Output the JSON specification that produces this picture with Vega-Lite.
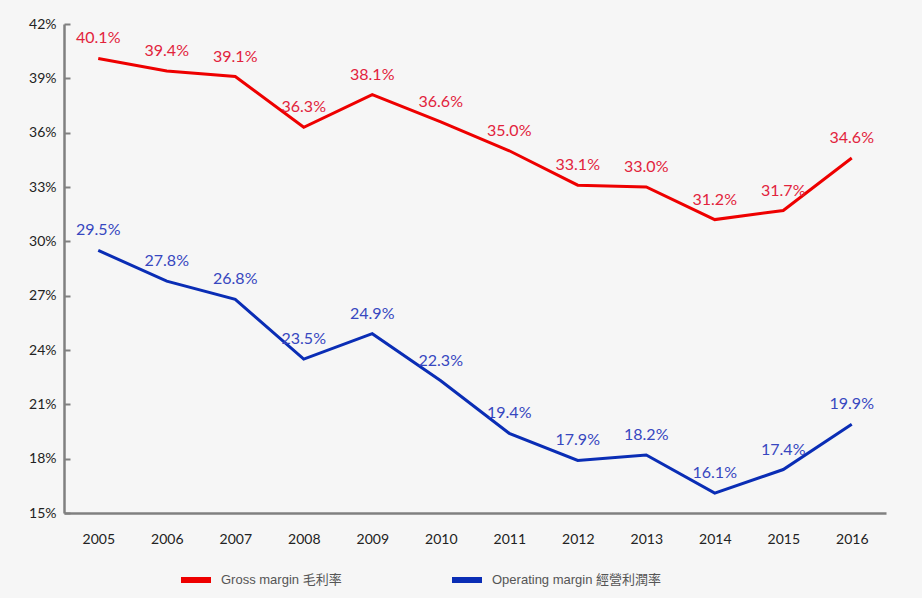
{
  "$schema": "https://vega.github.io/schema/vega-lite/v6.json",
  "width": 822,
  "height": 489,
  "autosize": {"type": "none"},
  "padding": {"left": 64, "top": 24, "right": 36, "bottom": 85},
  "background": "#f6f6f6",
  "config": {
    "view": {"stroke": null},
    "axis": {"grid": false, "labelFont": "Lato", "labelFontSize": 14, "labelColor": "#222222", "domainColor": "#808080", "domainWidth": 2.5, "tickColor": "#808080", "tickWidth": 2, "title": null}
  },
  "data": {
    "values": [
      {"year": "2005", "series": "Gross margin 毛利率", "value": 0.401},
      {"year": "2006", "series": "Gross margin 毛利率", "value": 0.394},
      {"year": "2007", "series": "Gross margin 毛利率", "value": 0.391},
      {"year": "2008", "series": "Gross margin 毛利率", "value": 0.363},
      {"year": "2009", "series": "Gross margin 毛利率", "value": 0.381},
      {"year": "2010", "series": "Gross margin 毛利率", "value": 0.366},
      {"year": "2011", "series": "Gross margin 毛利率", "value": 0.350},
      {"year": "2012", "series": "Gross margin 毛利率", "value": 0.331},
      {"year": "2013", "series": "Gross margin 毛利率", "value": 0.330},
      {"year": "2014", "series": "Gross margin 毛利率", "value": 0.312},
      {"year": "2015", "series": "Gross margin 毛利率", "value": 0.317},
      {"year": "2016", "series": "Gross margin 毛利率", "value": 0.346},
      {"year": "2005", "series": "Operating margin 經營利潤率", "value": 0.295},
      {"year": "2006", "series": "Operating margin 經營利潤率", "value": 0.278},
      {"year": "2007", "series": "Operating margin 經營利潤率", "value": 0.268},
      {"year": "2008", "series": "Operating margin 經營利潤率", "value": 0.235},
      {"year": "2009", "series": "Operating margin 經營利潤率", "value": 0.249},
      {"year": "2010", "series": "Operating margin 經營利潤率", "value": 0.223},
      {"year": "2011", "series": "Operating margin 經營利潤率", "value": 0.194},
      {"year": "2012", "series": "Operating margin 經營利潤率", "value": 0.179},
      {"year": "2013", "series": "Operating margin 經營利潤率", "value": 0.182},
      {"year": "2014", "series": "Operating margin 經營利潤率", "value": 0.161},
      {"year": "2015", "series": "Operating margin 經營利潤率", "value": 0.174},
      {"year": "2016", "series": "Operating margin 經營利潤率", "value": 0.199}
    ]
  },
  "encoding": {
    "x": {
      "field": "year",
      "type": "ordinal",
      "scale": {"type": "point", "padding": 0.5},
      "axis": {"labelAngle": 0, "ticks": false, "labelPadding": 19}
    },
    "y": {
      "field": "value",
      "type": "quantitative",
      "scale": {"domain": [0.15, 0.42], "nice": false, "zero": false},
      "axis": {"values": [0.15, 0.18, 0.21, 0.24, 0.27, 0.30, 0.33, 0.36, 0.39, 0.42], "format": ".0%", "tickSize": -6, "labelPadding": 14}
    }
  },
  "layer": [
    {
      "mark": {"type": "line", "strokeWidth": 3},
      "encoding": {
        "color": {
          "field": "series",
          "type": "nominal",
          "scale": {"domain": ["Gross margin 毛利率", "Operating margin 經營利潤率"], "range": ["#ee0000", "#0a2db5"]},
          "legend": {
            "title": null,
            "orient": "none",
            "legendX": 114,
            "legendY": 538,
            "direction": "horizontal",
            "symbolType": "stroke",
            "symbolSize": 900,
            "symbolStrokeWidth": 6,
            "labelFont": "Liberation Sans, Noto Sans CJK TC",
            "labelFontSize": 13,
            "labelColor": "#555555",
            "labelOffset": 7,
            "columnPadding": 98,
            "labelLimit": 300
          }
        }
      }
    },
    {
      "mark": {"type": "text", "baseline": "middle", "dy": -20, "font": "Lato", "fontSize": 16},
      "encoding": {
        "text": {"field": "value", "type": "quantitative", "format": ".1%"},
        "color": {
          "field": "series",
          "type": "nominal",
          "scale": {"domain": ["Gross margin 毛利率", "Operating margin 經營利潤率"], "range": ["#e2233c", "#3747c0"]},
          "legend": null
        }
      }
    }
  ],
  "resolve": {"scale": {"color": "independent"}}
}
